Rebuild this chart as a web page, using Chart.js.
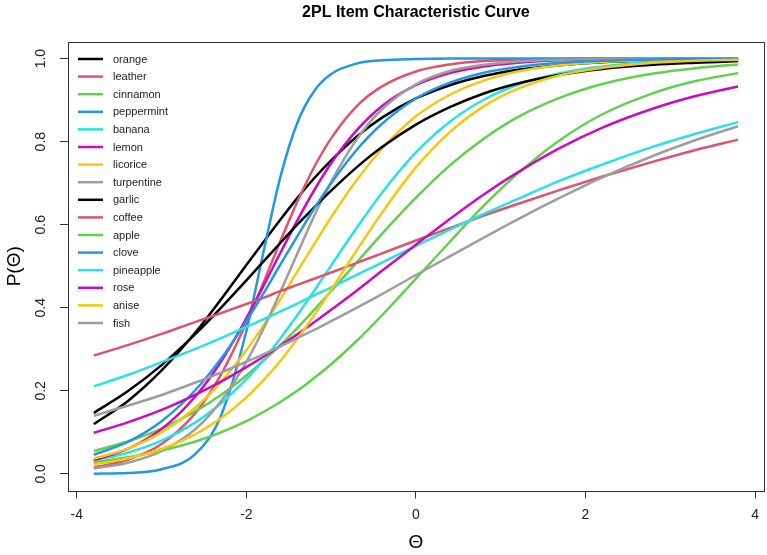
<!DOCTYPE html>
<html>
<head>
<meta charset="utf-8">
<script src="https://cdn.jsdelivr.net/npm/chart.js@4.4.0/dist/chart.umd.min.js"></script>
<style>
  html, body { margin: 0; padding: 0; background: #fff; }
  #wrap { width: 767px; height: 555px; }
</style>
</head>
<body>
<div id="wrap"><canvas id="iccChart" width="767" height="555"></canvas></div>
<script>
// theta grid the curves were read at
const theta = [-3.8, -3.4, -3.0, -2.6, -2.3, -2.0, -1.8, -1.6, -1.4, -1.2, -1.0, -0.7, -0.4, 0.0, 0.4, 0.8, 1.2, 1.7, 2.2, 2.8, 3.3, 3.8];

// P(theta) for each item
const orange     = [0.120, 0.175, 0.249, 0.341, 0.420, 0.503, 0.558, 0.612, 0.664, 0.712, 0.755, 0.812, 0.858, 0.904, 0.936, 0.958, 0.973, 0.984, 0.991, 0.995, 0.997, 0.998];
const leather    = [0.015, 0.034, 0.072, 0.147, 0.239, 0.364, 0.460, 0.560, 0.655, 0.739, 0.808, 0.885, 0.933, 0.969, 0.986, 0.994, 0.997, 0.999, 1.000, 1.000, 1.000, 1.000];
const cinnamon   = [0.055, 0.078, 0.109, 0.151, 0.190, 0.237, 0.272, 0.310, 0.351, 0.395, 0.440, 0.509, 0.578, 0.665, 0.743, 0.807, 0.859, 0.906, 0.939, 0.964, 0.977, 0.986];
const peppermint = [0.0005, 0.002, 0.011, 0.048, 0.140, 0.344, 0.533, 0.714, 0.845, 0.922, 0.963, 0.988, 0.996, 0.999, 1.000, 1.000, 1.000, 1.000, 1.000, 1.000, 1.000, 1.000];
const banana     = [0.032, 0.051, 0.080, 0.124, 0.170, 0.228, 0.274, 0.326, 0.382, 0.441, 0.502, 0.592, 0.677, 0.774, 0.848, 0.901, 0.937, 0.965, 0.981, 0.991, 0.995, 0.997];
const lemon      = [0.033, 0.060, 0.108, 0.187, 0.270, 0.375, 0.452, 0.532, 0.610, 0.683, 0.748, 0.827, 0.886, 0.936, 0.965, 0.981, 0.990, 0.996, 0.998, 0.999, 1.000, 1.000];
const licorice   = [0.037, 0.061, 0.100, 0.160, 0.221, 0.298, 0.357, 0.420, 0.487, 0.553, 0.618, 0.707, 0.783, 0.861, 0.913, 0.947, 0.969, 0.984, 0.992, 0.996, 0.998, 0.999];
const turpentine = [0.013, 0.027, 0.055, 0.108, 0.175, 0.270, 0.349, 0.438, 0.530, 0.621, 0.703, 0.805, 0.878, 0.938, 0.970, 0.985, 0.993, 0.997, 0.999, 1.000, 1.000, 1.000];
const garlic     = [0.147, 0.199, 0.262, 0.337, 0.400, 0.466, 0.511, 0.556, 0.600, 0.642, 0.682, 0.738, 0.787, 0.841, 0.883, 0.916, 0.940, 0.961, 0.975, 0.985, 0.990, 0.994];
const coffee     = [0.285, 0.310, 0.337, 0.366, 0.387, 0.409, 0.424, 0.440, 0.455, 0.470, 0.485, 0.508, 0.531, 0.562, 0.592, 0.622, 0.650, 0.684, 0.716, 0.752, 0.780, 0.805];
const apple      = [0.028, 0.040, 0.056, 0.078, 0.100, 0.127, 0.149, 0.173, 0.200, 0.231, 0.264, 0.320, 0.382, 0.470, 0.559, 0.646, 0.723, 0.804, 0.866, 0.917, 0.946, 0.965];
const clove      = [0.046, 0.077, 0.127, 0.202, 0.277, 0.368, 0.434, 0.504, 0.572, 0.639, 0.700, 0.780, 0.843, 0.904, 0.942, 0.966, 0.980, 0.990, 0.995, 0.998, 0.999, 0.999];
const pineapple  = [0.211, 0.238, 0.269, 0.301, 0.327, 0.354, 0.372, 0.391, 0.410, 0.430, 0.449, 0.479, 0.509, 0.549, 0.588, 0.626, 0.662, 0.706, 0.745, 0.788, 0.819, 0.847];
const rose       = [0.099, 0.124, 0.154, 0.191, 0.222, 0.257, 0.282, 0.308, 0.336, 0.365, 0.395, 0.441, 0.489, 0.552, 0.614, 0.673, 0.726, 0.785, 0.834, 0.880, 0.910, 0.933];
const anise      = [0.023, 0.037, 0.060, 0.096, 0.134, 0.184, 0.225, 0.272, 0.325, 0.382, 0.443, 0.538, 0.629, 0.738, 0.823, 0.885, 0.927, 0.960, 0.978, 0.990, 0.995, 0.997];
const fish       = [0.140, 0.164, 0.190, 0.220, 0.244, 0.270, 0.288, 0.307, 0.327, 0.347, 0.368, 0.400, 0.433, 0.479, 0.524, 0.569, 0.613, 0.665, 0.714, 0.766, 0.804, 0.837];

const items = ['orange', 'leather', 'cinnamon', 'peppermint', 'banana', 'lemon', 'licorice', 'turpentine',
               'garlic', 'coffee', 'apple', 'clove', 'pineapple', 'rose', 'anise', 'fish'];
const series = [orange, leather, cinnamon, peppermint, banana, lemon, licorice, turpentine,
                garlic, coffee, apple, clove, pineapple, rose, anise, fish];

// R palette, recycled for the 16 items
const palette = ['#000000', '#DF536B', '#61D04F', '#2297E6', '#28E2E5', '#CD0BBC', '#F5C710', '#9E9E9E'];
const itemColors = items.map((_, i) => palette[i % palette.length]);

const xTicks = [-4, -2, 0, 2, 4];
const yTicks = [0, 0.2, 0.4, 0.6, 0.8, 1.0];

const FONT = '"Liberation Sans", Arial, Helvetica, sans-serif';

// box, rotated y labels, titles and legend drawn R style
const rFrame = {
    id: 'rFrame',
    afterDraw(chart) {
        const { ctx, chartArea: a, scales } = chart;
        ctx.save();

        ctx.strokeStyle = '#333';
        ctx.lineWidth = 1;
        ctx.strokeRect(Math.round(a.left) + 0.5, Math.round(a.top) + 0.5,
                       Math.round(a.right - a.left), Math.round(a.bottom - a.top));

        ctx.fillStyle = '#222';
        ctx.font = '14px ' + FONT;
        ctx.textAlign = 'center';
        ctx.textBaseline = 'middle';
        yTicks.forEach(v => {
            const y = scales.y.getPixelForValue(v);
            ctx.save();
            ctx.translate(41, y);
            ctx.rotate(-Math.PI / 2);
            ctx.fillText(v.toFixed(1), 0, 0);
            ctx.restore();
        });

        const cx = (a.left + a.right) / 2;
        const cy = (a.top + a.bottom) / 2;
        ctx.fillStyle = '#000';
        ctx.font = 'bold 16px ' + FONT;
        ctx.fillText('2PL Item Characteristic Curve', cx, 13);

        ctx.font = '19px ' + FONT;
        ctx.fillText('Θ', cx, 543);
        ctx.save();
        ctx.translate(15, cy);
        ctx.rotate(-Math.PI / 2);
        ctx.fillText('P(Θ)', 0, 0);
        ctx.restore();

        // legend
        ctx.font = '11px ' + FONT;
        ctx.textAlign = 'left';
        items.forEach((name, i) => {
            const y = 59 + i * 17.6;
            ctx.strokeStyle = itemColors[i];
            ctx.lineWidth = 2.5;
            ctx.beginPath();
            ctx.moveTo(78, y);
            ctx.lineTo(103, y);
            ctx.stroke();
            ctx.fillStyle = '#222';
            ctx.fillText(name, 113, y + 0.5);
        });

        ctx.restore();
    }
};

const datasets = series.map((vals, i) => ({
    label: items[i],
    data: vals.map((p, j) => ({ x: theta[j], y: p })),
    borderColor: itemColors[i],
    backgroundColor: 'transparent',
    borderWidth: 2.5,
    pointRadius: 0,
    cubicInterpolationMode: 'monotone',
    fill: false,
    order: series.length - i
}));

new Chart(document.getElementById('iccChart'), {
    type: 'line',
    data: { datasets: datasets },
    options: {
        responsive: false,
        animation: false,
        devicePixelRatio: 1,
        layout: { padding: { top: 42, right: 3, left: 0, bottom: 0 } },
        plugins: {
            legend: { display: false },
            tooltip: { enabled: false },
            title: { display: false }
        },
        scales: {
            x: {
                type: 'linear',
                min: -4.104,
                max: 4.104,
                afterBuildTicks: s => { s.ticks = xTicks.map(v => ({ value: v })); },
                afterFit: s => { s.height = 64.5; },
                border: { display: false },
                grid: { drawOnChartArea: false, drawTicks: true, tickLength: 8, color: '#333' },
                ticks: { color: '#222', padding: 8, maxRotation: 0, font: { size: 14, family: FONT } }
            },
            y: {
                type: 'linear',
                min: -0.04,
                max: 1.04,
                afterBuildTicks: s => { s.ticks = yTicks.map(v => ({ value: v })); },
                afterFit: s => { s.width = 68; },
                border: { display: false },
                grid: { drawOnChartArea: false, drawTicks: true, tickLength: 8, color: '#333' },
                ticks: { display: false }
            }
        }
    },
    plugins: [rFrame]
});
</script>
</body>
</html>
